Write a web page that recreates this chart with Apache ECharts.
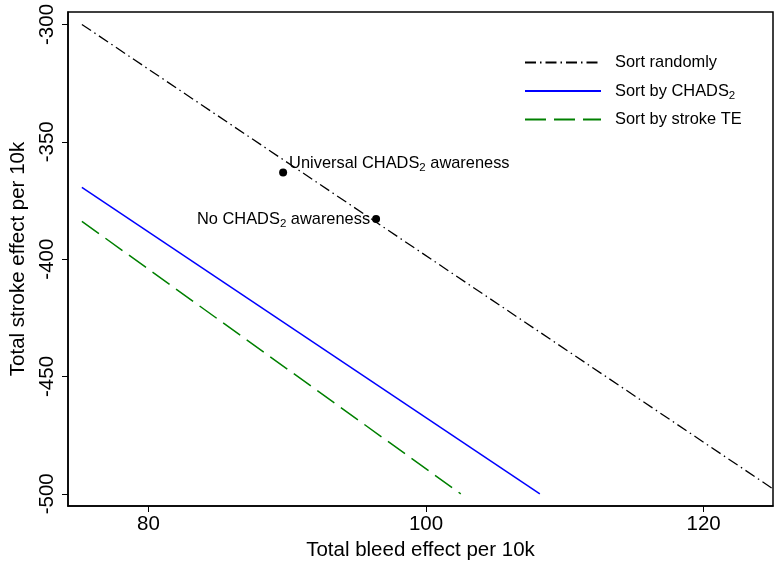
<!DOCTYPE html>
<html><head><meta charset="utf-8">
<script src="https://cdn.jsdelivr.net/npm/echarts@6/dist/echarts.min.js"></script>
<style>html,body{margin:0;padding:0;background:#fff}#c{width:774px;height:562px}</style>
</head><body><div id="c"></div>
<script>
var randomX = [75.2, 124.9];
var randomY = [-300, -497.5];
var chadsX = [75.2, 108.2];
var chadsY = [-369.4, -500];
var strokeX = [75.2, 102.5];
var strokeY = [-383.9, -500];
var pointX = [89.7, 96.4];
var pointY = [-363.1, -382.9];
var pointLabels = ['Universal', 'No'];
var xTicks = [80, 100, 120];
var yTicks = [-500, -450, -400, -350, -300];

function zip(xs, ys){ return xs.map(function(x,i){return [x, ys[i]];}); }

var FONT = '"Liberation Sans", Arial, sans-serif';
var rich = {
  a: {fontFamily: FONT, fontSize: 16.4, color: '#000', lineHeight: 18},
  s: {fontFamily: FONT, fontSize: 11.5, color: '#000', lineHeight: 18, padding: [9,0,0,0]}
};

var chart = echarts.init(document.getElementById('c'));
chart.setOption({
  animation: false,
  grid: {left: 68, right: 1, top: 12, bottom: 56, show: true, borderColor: '#000', borderWidth: 1.5, outerBoundsMode: 'none', containLabel: false},
  xAxis: {
    type: 'value', min: 74.2, max: 125,
    name: 'Total bleed effect per 10k', nameLocation: 'middle', nameGap: 33,
    nameTextStyle: {fontFamily: FONT, fontSize: 20.5, color: '#000'},
    axisLine: {onZero: false, lineStyle: {color: '#000', width: 1.5}},
    axisTick: {customValues: xTicks, length: 6, lineStyle: {color: '#000'}},
    axisLabel: {customValues: xTicks, fontFamily: FONT, fontSize: 20.5, color: '#000', margin: 8},
    splitLine: {show: false}
  },
  yAxis: {
    type: 'value', min: -505.2, max: -294.7,
    name: 'Total stroke effect per 10k', nameLocation: 'middle', nameGap: 28,
    nameTextStyle: {fontFamily: FONT, fontSize: 20.5, color: '#000'},
    axisLine: {onZero: false, lineStyle: {color: '#000', width: 1.5}},
    axisTick: {customValues: yTicks, length: 6, lineStyle: {color: '#000'}},
    axisLabel: {customValues: yTicks, rotate: 90, fontFamily: FONT, fontSize: 20.5, color: '#000', margin: 10},
    splitLine: {show: false}
  },
  legend: {
    orient: 'vertical', left: 524, top: 54.5, padding: 0, itemWidth: 76, itemHeight: 14, itemGap: 10,
    itemStyle: {opacity: 0},
    textStyle: {fontFamily: FONT, fontSize: 16.4, color: '#000', rich: rich, padding: [0,0,0,9]},
    formatter: function(n){
      if (n === 'Sort by CHADS2') return '{a|Sort by CHADS}{s|2}';
      return '{a|' + n + '}';
    },
    data: ['Sort randomly', 'Sort by CHADS2', 'Sort by stroke TE']
  },
  series: [
    {name: 'Sort randomly', type: 'line', data: zip(randomX, randomY), symbol: 'none',
     lineStyle: {color: '#000', width: 1.3, type: [11, 4, 1.5, 4]}, itemStyle: {color: '#000'}},
    {name: 'Sort by CHADS2', type: 'line', data: zip(chadsX, chadsY), symbol: 'none',
     lineStyle: {color: '#0000ff', width: 1.5}, itemStyle: {color: '#0000ff'}},
    {name: 'Sort by stroke TE', type: 'line', data: zip(strokeX, strokeY), symbol: 'none',
     lineStyle: {color: '#008000', width: 1.5, type: [21, 8]}, itemStyle: {color: '#008000'}},
    {type: 'scatter', symbolSize: 8, itemStyle: {color: '#000', opacity: 1},
     data: [
       {value: [pointX[0], pointY[0]], label: {position: 'right', distance: 2, offset: [0, -9]}},
       {value: [pointX[1], pointY[1]], label: {position: 'left', distance: 2, offset: [0, 0]}}
     ],
     label: {show: true, color: '#000', rich: rich,
       formatter: function(p){
         return pointLabels[p.dataIndex] === 'Universal'
           ? '{a|Universal CHADS}{s|2}{a| awareness}'
           : '{a|No CHADS}{s|2}{a| awareness}';
       }
     }}
  ]
});
</script></body></html>
